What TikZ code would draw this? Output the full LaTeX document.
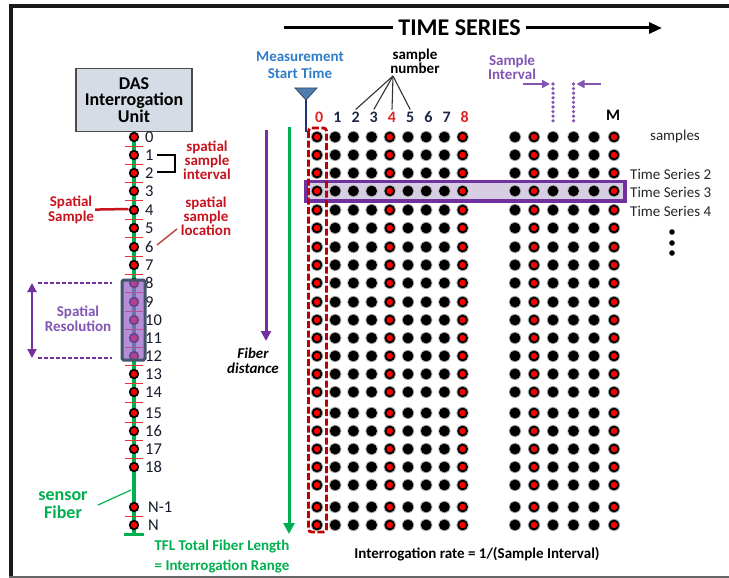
\documentclass[tikz,border=0pt]{standalone}
\usepackage{fontspec}
\setmainfont{Carlito}
\usetikzlibrary{arrows.meta,calc}
\definecolor{myred}{RGB}{200,20,30}
\definecolor{gred}{RGB}{225,35,35}
\definecolor{mygreen}{RGB}{0,176,80}
\definecolor{mypurple}{RGB}{112,48,160}
\definecolor{lpurple}{RGB}{130,85,180}
\definecolor{myblue}{RGB}{46,125,200}
\definecolor{trib}{RGB}{80,125,175}
\definecolor{navyl}{RGB}{30,50,120}
\definecolor{dred}{RGB}{192,0,0}
\definecolor{lav}{RGB}{216,206,228}
\definecolor{dasfill}{RGB}{214,220,229}
\definecolor{slate}{RGB}{68,84,106}
\definecolor{resp}{RGB}{150,95,200}
\definecolor{numc}{RGB}{30,40,70}
\definecolor{fnum}{RGB}{20,25,45}
\definecolor{locl}{RGB}{192,80,77}
\definecolor{tickc}{RGB}{235,50,50}
\newcommand\fsz[2]{\fontsize{#1}{#2}\selectfont}
\tikzset{
  lbl/.style={inner sep=1pt, align=center},
  bdot/.style={fill=black},
  halo/.style={fill=black!28},
  rdot/.style={fill=red},
}
\begin{document}
\begin{tikzpicture}[x=1pt,y=-1pt]
\useasboundingbox (0,0) rectangle (729,578);
\fill[white] (0,0) rectangle (729,578);
% frame
\draw[line width=4, black!90] (9,6.5) -- (740,6.5);
\draw[line width=4, black!90] (11,4.5) -- (11,577);
\draw[line width=2, black!60] (9,576.5) -- (740,576.5);

% TIME SERIES
\node[font=\bfseries\fsz{24}{24}, inner sep=5pt] (ts) at (459.5,28) {TIME SERIES};
\coordinate (tsL) at (284,28);
\coordinate (tsR) at (662,28);
\draw[line width=3] (tsL) -- (ts);
\draw[line width=3, -{Triangle[length=13pt,width=11pt]}] (ts) -- (tsR);

% Measurement start time
\node[lbl, font=\bfseries\fsz{15}{17}, text=myblue] (mst) at (300,65.5) {Measurement\\Start Time};
\coordinate (triL) at (295,88);
\coordinate (triR) at (317,88);
\coordinate (triB) at (306,100);
\coordinate (mline) at (306,132);
\draw[fill=trib, draw=trib!60!black, line width=0.8] (triL) -- (triR) -- (triB) -- cycle;
\draw[navyl, line width=1.2] (triB) -- (mline);

% DAS unit
\node[draw=black!70, line width=1.2, fill=dasfill, minimum width=116pt, minimum height=63pt,
      align=center, inner sep=0pt, font=\bfseries\fsz{18}{16.5}] (das) at (134,100) {DAS\\Interrogation\\Unit};

% fiber
\coordinate (fend) at (134,534);
\coordinate (capL) at (124,534);
\coordinate (capR) at (144,534);
\draw[mygreen, line width=3.5] (das.south) -- (fend);
\draw[mygreen, line width=3] (capL) -- (capR);

% ticks
\foreach \a/\b in {137/155,155/173,173/191,191/210,210/228,228/247,247/265,265/283,283/302,302/320,320/338,338/356,356/374,374/392,392/413,413/431,431/449,449/467,507/525}
  \draw[tickc, line width=1] (125,{(\a+\b)/2}) -- (143,{(\a+\b)/2});

% fiber dots and labels
\foreach \y [count=\i from 0] in {137,155,173,191,210,228,247,265,283,302,320,338,356,374,392,413,431,449,467} {
  \fill[bdot] (134,\y) circle[radius=5.2pt];
  \fill[rdot] (134,\y) circle[radius=3.2pt];
  \node[anchor=west, inner sep=0pt, font=\fsz{16.5}{16.5}, text=fnum] (fl\i) at (145,\y) {\i};
}
\foreach \y/\t/\n in {507/N-1/nm, 525/N/nn} {
  \fill[bdot] (134,\y) circle[radius=5.2pt];
  \fill[rdot] (134,\y) circle[radius=3.2pt];
  \node[anchor=west, inner sep=0pt, font=\fsz{16.5}{16.5}, text=fnum] (fl\n) at (148,\y) {\t};
}

% spatial resolution box
\draw[slate, line width=3, fill=resp, fill opacity=0.7, rounded corners=1.5pt] (122,280) rectangle (145,360);
\coordinate (srT1) at (38,283);
\coordinate (srT2) at (112,283);
\coordinate (srB1) at (38,358);
\coordinate (srB2) at (112,358);
\draw[mypurple, line width=1.8, dash pattern=on 4pt off 2pt] (srT1) -- (srT2);
\draw[mypurple, line width=1.8, dash pattern=on 4pt off 2pt] (srB1) -- (srB2);
\coordinate (srA1) at (32,283);
\coordinate (srA2) at (32,358);
\draw[mypurple, line width=2, {Triangle[length=9pt,width=9pt]}-{Triangle[length=9pt,width=9pt]}] (srA1) -- (srA2);
\node[lbl, font=\bfseries\fsz{15}{14.5}, text=lpurple] (sres) at (78,319) {Spatial\\Resolution};

% spatial sample interval
\node[lbl, font=\bfseries\fsz{15}{13.8}, text=myred] (ssi) at (207,160.5) {spatial\\sample\\interval};
\coordinate (br1) at (157,155);
\coordinate (br2) at (157,172);
\draw[black, line width=2] (br1) -- ++(18,0) |- (br2);

% spatial sample
\node[lbl, font=\bfseries\fsz{15}{14.5}, text=myred] (ssamp) at (71,210) {Spatial\\Sample};
\coordinate (f4w) at (128.5,209);
\draw[myred, line width=2.5] (ssamp) -- (f4w);

% spatial sample location
\node[lbl, font=\bfseries\fsz{15}{14}, text=myred] (sloc) at (206,216) {spatial\\sample\\location};
\coordinate (loc1) at (157,245);
\coordinate (loc2) at (177,229);
\draw[locl, line width=1.5] (loc1) -- (loc2);

% sensor fiber
\node[lbl, font=\bfseries\fsz{18}{17.5}, text=mygreen] (sens) at (63,505) {sensor\\Fiber};
\coordinate (sf1) at (98,505);
\coordinate (sf2) at (131,490);
\draw[mygreen, line width=1.2] (sf1) -- (sf2);

% TFL
\node[lbl, font=\bfseries\fsz{15}{20}, text=mygreen] (tfl) at (222,557) {TFL Total Fiber Length\\= Interrogation Range};

% fiber distance arrows
\coordinate (pa1) at (266,130);
\coordinate (pa2) at (266,341);
\draw[mypurple, line width=3, -{Triangle[length=10pt,width=10pt]}] (pa1) -- (pa2);
\node[lbl, font=\bfseries\itshape\fsz{15}{15}] (fd) at (253,360.5) {Fiber\\distance};
\coordinate (ga1) at (289,127);
\coordinate (ga2) at (289,534);
\draw[mygreen, line width=3, -{Triangle[length=11pt,width=11pt]}] (ga1) -- (ga2);

% highlight row
\draw[mypurple, line width=3.5, fill=lav] (306,181.5) rectangle (625,201);
% red dashed column box
\draw[dred, line width=2.8, dash pattern=on 7pt off 2.5pt, rounded corners=3pt] (308.5,128) rectangle (326.5,532);

% grid dots
\foreach \y in {137,155,173,191,210,228,247,265,283,302,320,338,356,374,392,413,431,449,467,485,507,525} {
  \foreach \x in {317,335.2,353.4,371.6,389.8,408,426.2,444.4,462.6,515,534,553,573.5,594,614} {
    \fill[halo] (\x,\y) circle[radius=6.2pt];
    \fill[bdot] (\x,\y) circle[radius=5.4pt];
  }
  \foreach \x in {317,389.8,462.6,534,614}
    \fill[rdot] (\x,\y) circle[radius=3.2pt];
}

% column labels
\foreach \i/\c in {0/gred,1/numc,2/numc,3/numc,4/gred,5/numc,6/numc,7/numc,8/gred}
  \node[inner sep=2pt, font=\bfseries\fsz{16}{16}, text=\c] (c\i) at ({319.2+18.2*\i},117) {\i};
\node[inner sep=2pt, font=\bfseries\fsz{16}{16}] (cM) at (613,115) {M};

% sample number
\node[lbl, font=\bfseries\fsz{15}{14}] (snum) at (415,61) {sample\\number};
\coordinate (snA) at (393,76);
\foreach \i in {2,3,4,5}
  \draw[black!80, line width=1.1] (snA) -- (c\i.north);

% sample interval
\node[lbl, font=\bfseries\fsz{15}{14}, text=lpurple] (si) at (512,67) {Sample\\Interval};
\coordinate (d1t) at (553,84);
\coordinate (d1b) at (553,125);
\coordinate (d2t) at (573.5,84);
\coordinate (d2b) at (573.5,125);
\draw[lpurple, line width=3.6, line cap=round, dash pattern=on 0pt off 4.6pt] (d1t) -- (d1b);
\draw[lpurple, line width=3.6, line cap=round, dash pattern=on 0pt off 4.6pt] (d2t) -- (d2b);
\coordinate (a1s) at (523,84);
\coordinate (a1e) at (550,84);
\coordinate (a2s) at (601,84);
\coordinate (a2e) at (576.5,84);
\draw[lpurple, line width=1.5, -{Triangle[length=8pt,width=8pt]}] (a1s) -- (a1e);
\draw[lpurple, line width=1.5, -{Triangle[length=8pt,width=8pt]}] (a2s) -- (a2e);

% right labels
\node[inner sep=1pt, font=\fsz{15}{15}, text=black!85] (smp) at (675,137) {samples};
\node[anchor=west, inner sep=0pt, font=\fsz{15}{15}, text=black!85] (tsr2) at (630,174) {Time Series 2};
\node[anchor=west, inner sep=0pt, font=\fsz{15}{15}, text=black!85] (tsr3) at (630,192) {Time Series 3};
\node[anchor=west, inner sep=0pt, font=\fsz{15}{15}, text=black!85] (tsr4) at (630,211) {Time Series 4};
\foreach \y in {232,243,253}
  \fill (672,\y) circle[radius=2.8pt];

% interrogation rate
\node[inner sep=1pt, font=\bfseries\fsz{15}{15}] (irate) at (477,554) {Interrogation rate = 1/(Sample Interval)};
\end{tikzpicture}
\end{document}
